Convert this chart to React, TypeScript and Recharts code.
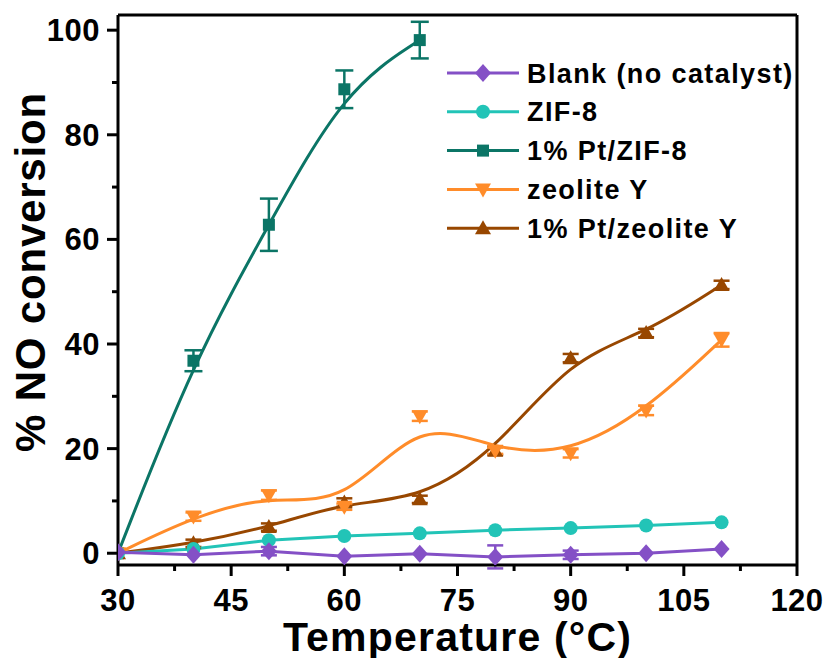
import React from 'react';
import { LineChart, Line, XAxis, YAxis, ErrorBar, ReferenceLine, Legend } from 'recharts';

// Temperatures (°C) at which conversion was measured
const TEMPS = [30, 40, 50, 60, 70, 80, 90, 100, 110];
const PT_ZIF8_TEMPS = [30, 40, 50, 60, 70];

// % NO conversion per catalyst, with error estimates
const BLANK = [0.2, -0.3, 0.4, -0.6, -0.1, -0.7, -0.3, 0.0, 0.8];
const BLANK_ERR = [0, 0, 0.8, 0, 0, 2.2, 0.8, 0, 0];
const ZIF8 = [0, 0.8, 2.5, 3.3, 3.8, 4.4, 4.8, 5.3, 5.9];
const PT_ZIF8 = [0, 36.8, 62.8, 88.7, 98.1];
const PT_ZIF8_ERR = [0, 2.0, 5.0, 3.6, 3.5];
const ZEOLITE_Y = [0, 7.0, 11.1, 8.9, 26.2, 19.6, 19.1, 27.3, 40.8];
const ZEOLITE_Y_ERR = [0, 0.8, 0.9, 0.6, 0.9, 0.6, 0.8, 0.9, 1.3];
const PT_ZEOLITE_Y = [0, 1.9, 5.0, 9.7, 10.3, 19.6, 37.3, 42.1, 51.3];
const PT_ZEOLITE_Y_ERR = [0, 0.7, 0.7, 0.8, 0.7, 0.8, 0.8, 0.8, 0.8];

// Axis ticks
const X_MAJOR = [30, 45, 60, 75, 90, 105, 120];
const X_TICKS = [30, 37.5, 45, 52.5, 60, 67.5, 75, 82.5, 90, 97.5, 105, 112.5, 120];
const Y_MAJOR = [0, 20, 40, 60, 80, 100];
const Y_TICKS = [0, 10, 20, 30, 40, 50, 60, 70, 80, 90, 100];

const FONT = "'Liberation Sans', Arial, Helvetica, sans-serif";

const COLORS = {
  blank: '#8450C6',
  zif8: '#22C4B7',
  ptZif8: '#0B7566',
  zeoY: '#FF8C2A',
  ptZeoY: '#984700',
};

type MarkerKind = 'diamond' | 'circle' | 'square' | 'down' | 'up';

const zip = (xs: number[], ys: number[], errs?: number[]) =>
  xs.map((x, i) => ({ x, y: ys[i], err: errs ? errs[i] : 0 }));

const blankData = zip(TEMPS, BLANK, BLANK_ERR);
const zif8Data = zip(TEMPS, ZIF8);
const ptZif8Data = zip(PT_ZIF8_TEMPS, PT_ZIF8, PT_ZIF8_ERR);
const zeoYData = zip(TEMPS, ZEOLITE_Y, ZEOLITE_Y_ERR);
const ptZeoYData = zip(TEMPS, PT_ZEOLITE_Y, PT_ZEOLITE_Y_ERR);

const LEGEND_ITEMS: { name: string; color: string; marker: MarkerKind }[] = [
  { name: 'Blank (no catalyst)', color: COLORS.blank, marker: 'diamond' },
  { name: 'ZIF-8', color: COLORS.zif8, marker: 'circle' },
  { name: '1% Pt/ZIF-8', color: COLORS.ptZif8, marker: 'square' },
  { name: 'zeolite Y', color: COLORS.zeoY, marker: 'down' },
  { name: '1% Pt/zeolite Y', color: COLORS.ptZeoY, marker: 'up' },
];

function Marker({ kind, cx, cy, color }: { kind: MarkerKind; cx: number; cy: number; color: string }) {
  if (cx == null || cy == null || isNaN(cx) || isNaN(cy)) return null;
  switch (kind) {
    case 'diamond':
      return <polygon points={`${cx},${cy - 9} ${cx + 8},${cy} ${cx},${cy + 9} ${cx - 8},${cy}`} fill={color} />;
    case 'circle':
      return <circle cx={cx} cy={cy} r={7} fill={color} />;
    case 'square':
      return <rect x={cx - 6} y={cy - 6} width={12} height={12} fill={color} />;
    case 'down':
      return <polygon points={`${cx - 8},${cy - 6} ${cx + 8},${cy - 6} ${cx},${cy + 8}`} fill={color} />;
    case 'up':
      return <polygon points={`${cx - 8},${cy + 6} ${cx + 8},${cy + 6} ${cx},${cy - 8}`} fill={color} />;
  }
  return null;
}

const makeDot = (kind: MarkerKind, color: string) => (props: any) => (
  <Marker key={`${kind}-${props.index}`} kind={kind} cx={props.cx} cy={props.cy} color={color} />
);

const XTick = (props: any) => {
  const { x, y, payload } = props;
  const major = X_MAJOR.includes(payload.value);
  return (
    <g>
      <line x1={x} x2={x} y1={y} y2={y + (major ? 11 : 6)} stroke="#000" strokeWidth={3} />
      {major && (
        <text
          x={x}
          y={y + 46}
          textAnchor="middle"
          fontFamily={FONT}
          fontWeight="bold"
          fontSize={31}
          letterSpacing={0.5}
          fill="#000"
        >
          {payload.value}
        </text>
      )}
    </g>
  );
};

const YTick = (props: any) => {
  const { x, y, payload } = props;
  const major = Y_MAJOR.includes(payload.value);
  return (
    <g>
      <line x1={x} x2={x - (major ? 11 : 6)} y1={y} y2={y} stroke="#000" strokeWidth={3} />
      {major && (
        <text
          x={x - 18}
          y={y + 11}
          textAnchor="end"
          fontFamily={FONT}
          fontWeight="bold"
          fontSize={31}
          letterSpacing={0.5}
          fill="#000"
        >
          {payload.value}
        </text>
      )}
    </g>
  );
};

const renderLegend = () => (
  <svg width={380} height={200}>
    {LEGEND_ITEMS.map((item, i) => {
      const cy = 23 + i * 38.8;
      return (
        <g key={item.name}>
          <line x1={7} x2={79} y1={cy} y2={cy} stroke={item.color} strokeWidth={3} />
          <Marker kind={item.marker} cx={43} cy={cy} color={item.color} />
          <text
            x={87}
            y={cy + 9.5}
            fontFamily={FONT}
            fontWeight="bold"
            fontSize={27}
            letterSpacing={1.4}
            fill="#000"
          >
            {item.name}
          </text>
        </g>
      );
    })}
  </svg>
);

export default function App() {
  return (
    <div style={{ position: 'absolute', left: 0, top: 0, width: 828, height: 658, background: '#fff' }}>
      <LineChart width={828} height={658} margin={{ top: 15, right: 31, bottom: 63, left: 58 }}>
        <XAxis
          type="number"
          dataKey="x"
          domain={[30, 120]}
          ticks={X_TICKS}
          interval={0}
          allowDataOverflow
          height={30}
          tickSize={0}
          tickMargin={0}
          tick={<XTick />}
          axisLine={{ stroke: '#000', strokeWidth: 3 }}
          label={{
            content: (p: any) => (
              <text
                x={p.viewBox.x + p.viewBox.width / 2}
                y={651}
                textAnchor="middle"
                fontFamily={FONT}
                fontWeight="bold"
                fontSize={41}
                letterSpacing={1.2}
                fill="#000"
              >
                Temperature (°C)
              </text>
            ),
          }}
        />
        <YAxis
          type="number"
          domain={[-2.25, 102.9]}
          ticks={Y_TICKS}
          interval={0}
          allowDataOverflow
          width={60}
          tickSize={0}
          tickMargin={0}
          tick={<YTick />}
          axisLine={{ stroke: '#000', strokeWidth: 3 }}
          label={{
            content: () => {
              const cy = 272;
              return (
                <text
                  x={45}
                  y={cy}
                  transform={`rotate(-90, 45, ${cy})`}
                  textAnchor="middle"
                  fontFamily={FONT}
                  fontWeight="bold"
                  fontSize={42}
                  letterSpacing={0.8}
                  fill="#000"
                >
                  % NO conversion
                </text>
              );
            },
          }}
        />
        <ReferenceLine y={102.9} stroke="#000" strokeWidth={3} ifOverflow="visible" />
        <ReferenceLine x={120} stroke="#000" strokeWidth={3} ifOverflow="visible" />

        <Line
          data={ptZif8Data}
          dataKey="y"
          name="1% Pt/ZIF-8"
          type="basis"
          stroke={COLORS.ptZif8}
          strokeWidth={3}
          dot={makeDot('square', COLORS.ptZif8)}
          isAnimationActive={false}
        >
          <ErrorBar dataKey="err" width={9} stroke={COLORS.ptZif8} strokeWidth={2.5} direction="y" />
        </Line>
        <Line
          data={ptZeoYData}
          dataKey="y"
          name="1% Pt/zeolite Y"
          type="basis"
          stroke={COLORS.ptZeoY}
          strokeWidth={3}
          dot={makeDot('up', COLORS.ptZeoY)}
          isAnimationActive={false}
        >
          <ErrorBar dataKey="err" width={8} stroke={COLORS.ptZeoY} strokeWidth={2.5} direction="y" />
        </Line>
        <Line
          data={zeoYData}
          dataKey="y"
          name="zeolite Y"
          type="basis"
          stroke={COLORS.zeoY}
          strokeWidth={3}
          dot={makeDot('down', COLORS.zeoY)}
          isAnimationActive={false}
        >
          <ErrorBar dataKey="err" width={8} stroke={COLORS.zeoY} strokeWidth={2.5} direction="y" />
        </Line>
        <Line
          data={zif8Data}
          dataKey="y"
          name="ZIF-8"
          type="linear"
          stroke={COLORS.zif8}
          strokeWidth={3}
          dot={makeDot('circle', COLORS.zif8)}
          isAnimationActive={false}
        />
        <Line
          data={blankData}
          dataKey="y"
          name="Blank (no catalyst)"
          type="linear"
          stroke={COLORS.blank}
          strokeWidth={3}
          dot={makeDot('diamond', COLORS.blank)}
          isAnimationActive={false}
        >
          <ErrorBar dataKey="err" width={8} stroke={COLORS.blank} strokeWidth={2.5} direction="y" />
        </Line>

        <Legend
          layout="vertical"
          align="center"
          verticalAlign="middle"
          content={renderLegend}
          wrapperStyle={{ left: 440, top: 50, width: 380, height: 200 }}
        />
      </LineChart>
    </div>
  );
}
